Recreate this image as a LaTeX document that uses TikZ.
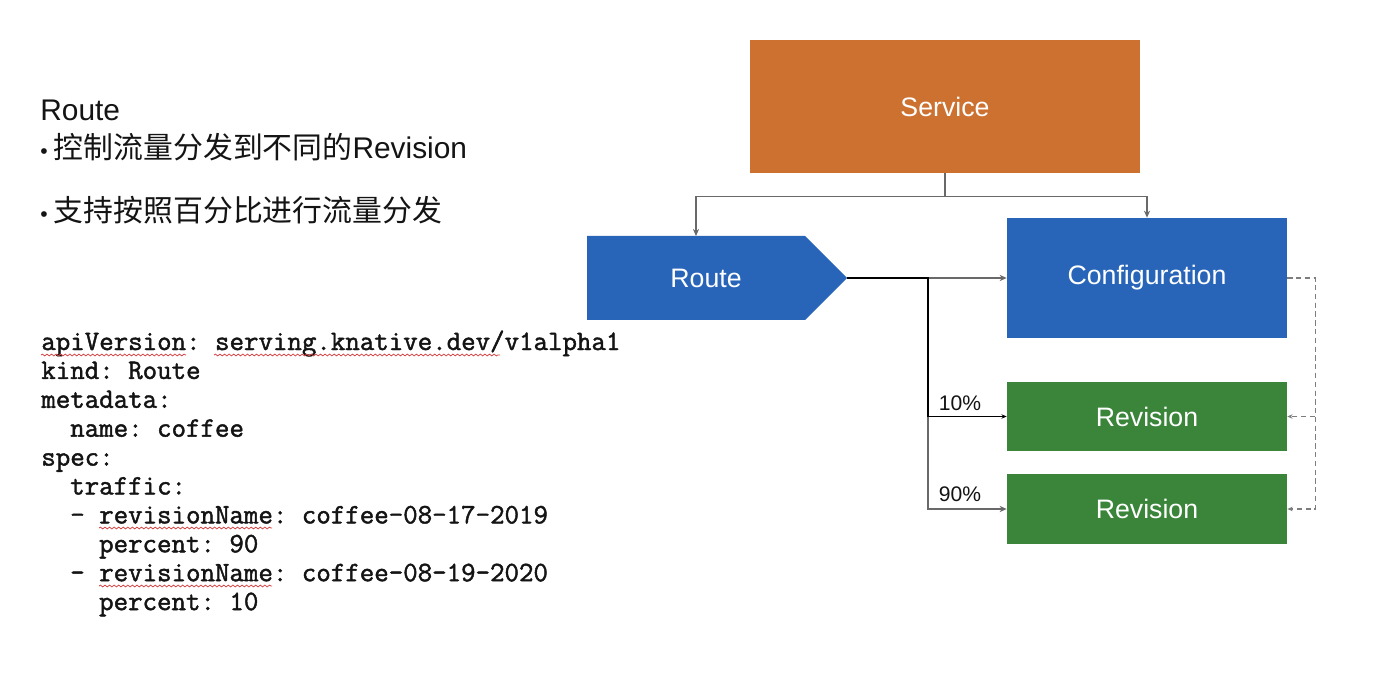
\documentclass[tikz,border=0pt]{standalone}
\usepackage{fontspec}
\setmainfont{Liberation Sans}
\newfontfamily\cjk{Noto Sans CJK SC}
\newfontfamily\yamlfont{Latin Modern Mono}[FakeBold=1.6]
\usepackage{xcolor}
\definecolor{knorange}{RGB}{205,113,49}
\definecolor{knblue}{RGB}{40,101,185}
\definecolor{kngreen}{RGB}{59,133,58}
\definecolor{kngray}{RGB}{105,105,105}
\definecolor{kndash}{RGB}{125,125,125}
\definecolor{knred}{RGB}{214,70,70}
\definecolor{kntext}{RGB}{20,20,20}
\usetikzlibrary{arrows.meta, positioning, decorations.pathmorphing}

\begin{document}
\frenchspacing
\begin{tikzpicture}[x=0.02cm, y=-0.02cm,
  box/.style={minimum width=5.6cm, inner sep=0pt, text=white, font=\fontsize{15.2}{18}\selectfont},
  link/.style={draw=kngray, line width=0.75pt, -{Stealth[length=4pt, width=3.5pt]}},
  backlink/.style={draw=kndash, line width=0.75pt, dashed, dash pattern=on 3pt off 2pt, -{Stealth[length=3pt, width=2.5pt]}},
  pct/.style={font=\fontsize{12}{14}\selectfont, text=kntext},
  bulletline/.style={anchor=west, inner sep=0pt, font=\fontsize{17}{20}\selectfont, text=kntext},
  yaml/.style={anchor=base west, inner sep=0pt, font=\yamlfont\fontsize{16}{18}\selectfont, text=kntext},
  squiggle/.style={draw=knred, line width=0.45pt, decorate, decoration={snake, amplitude=0.5pt, segment length=2.6pt}}]

  % Page frame
  \useasboundingbox (0,0) rectangle (1400,699);
  \fill[white] (0,0) rectangle (1400,699);

  % Left: heading and bullets
  \node[bulletline] (title) at (40,110) {Route};
  \node[bulletline] (bulletA) at (40,147) {{\fontsize{12}{12}\selectfont •}\hspace{3.5pt}{\cjk 控制流量分发到不同的}Revision};
  \node[bulletline] (bulletB) at (40,210) {{\fontsize{12}{12}\selectfont •}\hspace{3.5pt}{\cjk 支持按照百分比进行流量分发}};

  % Left: route manifest
  \foreach \i/\ind/\txt in {1/0/{apiVersion: serving.knative.dev/v1alpha1}, 2/0/{kind: Route},
      3/0/{metadata:}, 4/2/{name: coffee}, 5/0/{spec:}, 6/2/{traffic:},
      7/2/{- revisionName: coffee-08-17-2019}, 8/4/{percent: 90},
      9/2/{- revisionName: coffee-08-19-2020}, 10/4/{percent: 10}} {
    \node[yaml] (code\i) at ({41+\ind*14.45},{350+(\i-1)*28.9}) {\txt};
  }

  % Spell-check marks
  \draw[squiggle] (41,355) -- (186,355);
  \draw[squiggle] (214,355) -- (500,355);
  \draw[squiggle] (99,528) -- (272,528);
  \draw[squiggle] (99,586) -- (272,586);

  % Right: objects
  \node[box, fill=knorange, minimum width=7.8cm, minimum height=2.66cm] (service) at (945,106.5) {Service};
  \node[box, fill=knblue, minimum height=2.4cm] (config) at (1147,278) {Configuration};
  \node[box, fill=kngreen, minimum height=1.38cm] (rev1) at (1147,416.5) {Revision};
  \node[box, fill=kngreen, minimum height=1.4cm] (rev2) at (1147,509) {Revision};

  % Route arrow shape
  \coordinate (routetip) at (847,278);
  \coordinate (routetop) at (696,236);
  \fill[knblue] (587,236) -- (805,236) -- (routetip) -- (805,320) -- (587,320) -- cycle;
  \node[box, minimum width=0pt] (route) at (706,278) {Route};

  % Service owns route and configuration
  \draw[link] (service.south) -- ++(0,23) -| (routetop);
  \draw[link] (service.south) -- ++(0,23) -| (config.north);

  % Traffic split
  \coordinate (split) at (928,278);
  \draw[link] (routetip) -- (config.west);
  \draw[link, line width=1.3pt] (split) |- (rev2.west);
  \draw[draw=black, line width=1.1pt, -{Stealth[length=3pt, width=2.5pt]}] (routetip) -- (split) |- (rev1.west);
  \draw[black, line width=1.6pt] (routetip) -- (split) -- (928,417);
  \node[pct] (pct10) at (960,403) {10\%};
  \node[pct] (pct90) at (960,494) {90\%};

  % Configuration stamps out revisions
  \draw[backlink] (config.east) -- ++(28,0) |- (rev1.east);
  \draw[backlink] (config.east) -- ++(28,0) |- (rev2.east);
\end{tikzpicture}
\end{document}
